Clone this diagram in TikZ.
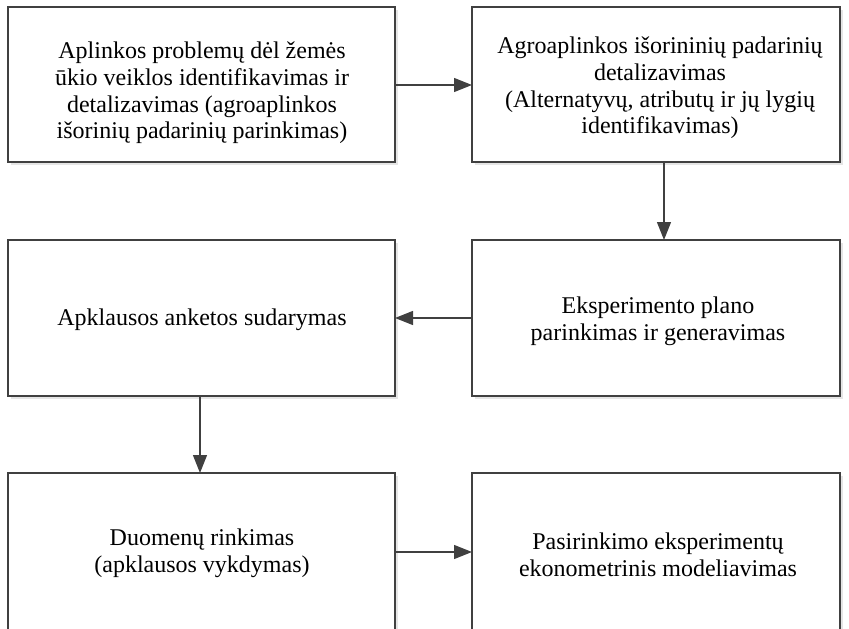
\documentclass[tikz,border=0pt]{standalone}
\usepackage{fontspec}
\setmainfont{Liberation Serif}
\usetikzlibrary{arrows.meta,shadows}
\begin{document}
\begin{tikzpicture}[x=1pt,y=-1pt,
  stepbox/.style={draw=black!75,line width=1.6pt,fill=white,
    drop shadow={shadow xshift=3pt,shadow yshift=-3pt,fill=black!10,opacity=1}},
  boxtext/.style={align=center,font=\fontsize{24}{26.8}\selectfont,inner sep=0pt},
  flow/.style={draw=black!75,line width=1.4pt,
    -{Triangle[length=18pt,width=14pt]}}]
\useasboundingbox (0,0) rectangle (849,629);
% boxes
\path[stepbox] (8,7) rectangle (395,162);
\path[stepbox] (472,7) rectangle (840,162);
\path[stepbox] (8,240) rectangle (395,396);
\path[stepbox] (472,240) rectangle (840,396);
\path[stepbox] (8,473) rectangle (395,640);
\path[stepbox] (472,473) rectangle (840,640);
% named anchors for the step boxes
\coordinate (b1e) at (395,85);
\coordinate (b2w) at (472,85);
\coordinate (b2s) at (664,162);
\coordinate (b4n) at (664,240);
\coordinate (b4w) at (472,318);
\coordinate (b3e) at (395,318);
\coordinate (b3s) at (200,396);
\coordinate (b5n) at (200,473);
\coordinate (b5e) at (395,552);
\coordinate (b6w) at (472,552);
% texts
\node[boxtext] (t1) at (202,93) {Aplinkos problemų dėl žemės\\ūkio veiklos identifikavimas ir\\detalizavimas (agroaplinkos\\išorinių padarinių parinkimas)};
\node[boxtext] (t2) at (660,88) {Agroaplinkos išorininių padarinių\\detalizavimas\\(Alternatyvų, atributų ir jų lygių\\identifikavimas)};
\node[boxtext] (t3) at (202,320) {Apklausos anketos sudarymas};
\node[boxtext] (t4) at (658,321) {Eksperimento plano\\parinkimas ir generavimas};
\node[boxtext] (t5) at (202,553) {Duomenų rinkimas\\(apklausos vykdymas)};
\node[boxtext] (t6) at (658,555) {Pasirinkimo eksperimentų\\ekonometrinis modeliavimas};
% connectors
\draw[flow] (b1e) -- (b2w);
\draw[flow] (b2s) -- (b4n);
\draw[flow] (b4w) -- (b3e);
\draw[flow] (b3s) -- (b5n);
\draw[flow] (b5e) -- (b6w);
\end{tikzpicture}
\end{document}
